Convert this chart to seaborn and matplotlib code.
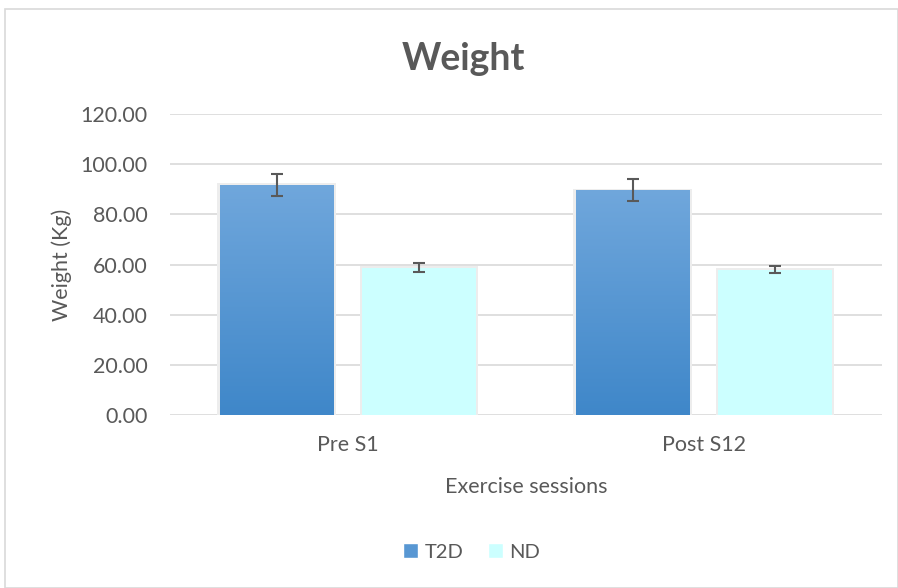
import numpy as np
import pandas as pd
import matplotlib
matplotlib.use("Agg")
import matplotlib.pyplot as plt
import seaborn as sns
from matplotlib.patches import Rectangle, Patch

# =========================================================
# DATA
# =========================================================

sessions = ["Pre S1", "Post S12"]
groups = ["T2D", "ND"]
t2d_mean = [91.8, 89.7]
t2d_err = [4.5, 4.4]
nd_mean = [58.8, 57.9]
nd_err = [1.7, 1.4]

df = pd.DataFrame({
    "session": sessions * 2,
    "group": ["T2D"] * 2 + ["ND"] * 2,
    "weight": t2d_mean + nd_mean,
    "err": t2d_err + nd_err,
})

# =========================================================
# PLOT
# =========================================================

sns.set_style("white")
plt.rcParams["font.family"] = ["Lato", "DejaVu Sans"]

text_col = "#595959"
palette = {"T2D": "#5b9bd5", "ND": "#ccffff"}

fig = plt.figure(figsize=(8.98, 5.88), dpi=100)
ax = fig.add_axes([0.189, 0.294, 0.793, 0.512])

# outer chart border
fig.patches.append(Rectangle((0.006, 0.0), 0.994, 0.985, transform=fig.transFigure,
                             fill=False, edgecolor="#d9d9d9", linewidth=1.2))

sns.barplot(
    data=df, x="session", y="weight", hue="group",
    hue_order=groups, order=sessions, palette=palette, saturation=1,
    errorbar=None, width=0.8, gap=0.2, ax=ax, legend=False,
    linewidth=0, zorder=3
)

# gradient fill on the T2D bars + error bars
grad = np.linspace(0, 1, 256).reshape(-1, 1)
cmap = matplotlib.colors.LinearSegmentedColormap.from_list("g", ["#3f87c9", "#70a7dc"])
n = len(sessions)
for i, p in enumerate(ax.patches[:2 * n]):
    x0, w, h = p.get_x(), p.get_width(), p.get_height()
    row = df.iloc[i]
    # soft shadow
    ax.add_patch(Rectangle((x0 - 0.007, 0), w + 0.014, h + 0.6, color="#ededed",
                           zorder=2, linewidth=0))
    if row["group"] == "T2D":
        im = ax.imshow(grad, cmap=cmap, aspect="auto", origin="lower",
                       extent=(x0, x0 + w, 0, h), zorder=3.5)
        im.set_clip_path(p)
    ax.errorbar(x0 + w / 2, h, yerr=row["err"], fmt="none", ecolor="#595959",
                elinewidth=1.5, capsize=4.3, capthick=1.5, zorder=5)

ax.set_xlim(-0.5, 1.5)
ax.set_ylim(0, 120)
ax.set_yticks(np.arange(0, 121, 20))
ax.set_yticklabels([f"{v:.2f}" for v in np.arange(0, 121, 20)])
ax.grid(axis="y", color="#d9d9d9", linewidth=1.2, zorder=0)
for s in ax.spines.values():
    s.set_visible(False)
ax.tick_params(axis="both", length=0, labelsize=15.5, colors=text_col)
ax.tick_params(axis="y", pad=16)
ax.tick_params(axis="x", pad=14)

ax.set_xlabel("Exercise sessions", fontsize=15.5, color=text_col, labelpad=16)
ax.set_ylabel("Weight (Kg)", fontsize=15.5, color=text_col)
ax.yaxis.set_label_coords(-0.1376, 0.5)
fig.text(0.516, 0.9, "Weight", ha="center", va="center", fontsize=27,
         fontweight="bold", color=text_col)

handles = [Patch(facecolor=cmap(0.5), label="T2D"), Patch(facecolor=palette["ND"], label="ND")]
fig.legend(handles=handles, loc="center", bbox_to_anchor=(0.525, 0.061), ncol=2,
           frameon=False, fontsize=14.5, labelcolor=text_col, handlelength=0.75,
           handleheight=0.75, handletextpad=0.3, columnspacing=1.2)

plt.savefig("out.png", dpi=100)
